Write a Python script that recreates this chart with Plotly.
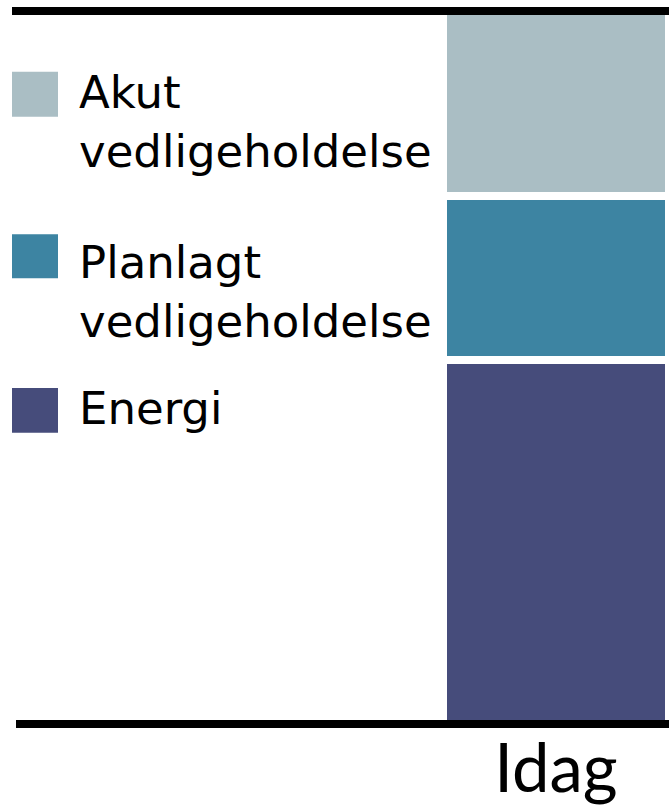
import plotly.graph_objects as go

# ---- data ----
categories = ["Idag"]
series_names = ["Energi", "Planlagt<br>vedligeholdelse", "Akut<br>vedligeholdelse"]
energi = [51]
planlagt = [23]
akut = [26]
series_values = [energi, planlagt, akut]
colors = ["#464C7B", "#3D84A2", "#AABEC4"]

# ---- layout geometry (pixels) ----
W, H = 669, 806
ML, MR, MT, MB = 12, 0, 11, 80
PW, PH = W - ML - MR, H - MT - MB


def px_x(p):
    return (p - ML) / PW


def px_y(p):
    return (H - MB - p) / PH


fig = go.Figure()
for name, vals, col in zip(series_names, series_values, colors):
    fig.add_trace(go.Bar(
        x=[0], y=vals, name=name, width=1,
        marker=dict(color=col, line=dict(color="white", width=8)),
        showlegend=False, hoverinfo="skip",
    ))

shapes = [
    dict(type="line", xref="paper", yref="paper", x0=0, x1=1, y0=1, y1=1,
         line=dict(color="black", width=8), layer="above"),
    dict(type="line", xref="paper", yref="paper", x0=px_x(16), x1=1, y0=0, y1=0,
         line=dict(color="black", width=8), layer="above"),
]

# legend swatches + labels (top to bottom: Akut, Planlagt, Energi)
legend_items = [
    (series_names[2], colors[2], 72, 117, 122),
    (series_names[1], colors[1], 235, 279, 293),
    (series_names[0], colors[0], 389, 434, 410),
]
annotations = []
for label, col, top, bot, ymid in legend_items:
    shapes.append(dict(type="rect", xref="paper", yref="paper",
                       x0=px_x(12), x1=px_x(58), y0=px_y(bot), y1=px_y(top),
                       fillcolor=col, line=dict(width=0)))
    annotations.append(dict(xref="paper", yref="paper", x=px_x(77), y=px_y(ymid),
                            xanchor="left", yanchor="middle", text=label,
                            showarrow=False, align="left",
                            font=dict(family="DejaVu Sans", size=45, color="black")))

fig.update_layout(
    width=W, height=H, barmode="stack",
    margin=dict(l=ML, r=MR, t=MT, b=MB, pad=0),
    paper_bgcolor="white", plot_bgcolor="white",
    shapes=shapes, annotations=annotations,
    xaxis=dict(range=[-2.407, 0.5], tickvals=[0], ticktext=categories,
               showgrid=False, zeroline=False, showline=False, ticks="",
               tickfont=dict(family="Lato", size=67, color="black"), fixedrange=True),
    yaxis=dict(range=[0, 100], showgrid=False, zeroline=False, showline=False,
               showticklabels=False, fixedrange=True),
    showlegend=False,
)

fig.write_html(
    "out.html",
    config={"displayModeBar": False, "staticPlot": True},
    post_script="document.documentElement.style.overflow='hidden';"
                "document.body.style.margin='0';document.body.style.overflow='hidden';",
)
